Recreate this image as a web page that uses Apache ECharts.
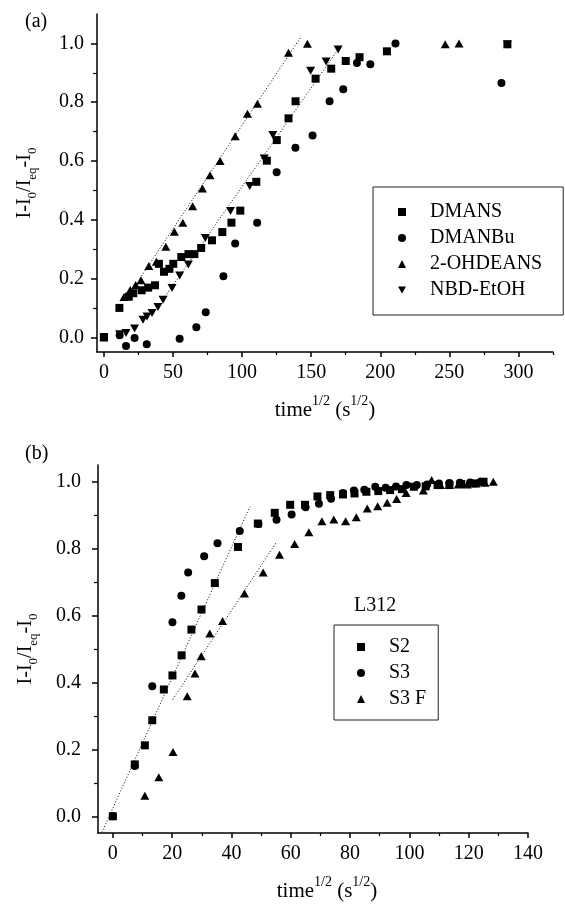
<!DOCTYPE html>
<html>
<head>
<meta charset="utf-8">
<script src="https://cdn.jsdelivr.net/npm/echarts@6/dist/echarts.min.js"></script>
<style>
  html, body { margin: 0; padding: 0; background: #fff; }
  #main { width: 565px; height: 907px; }
</style>
</head>
<body>
<div id="main"></div>
<script>
// panel (a): time^1/2 vs normalised intensity
var dmans = [[0,0],[11.2,0.100],[18,0.138],[21.2,0.150],[27.3,0.160],[32,0.169],[37,0.177],[39.8,0.250],[43.5,0.223],[47.4,0.233],[50.2,0.250],[56,0.273],[61.2,0.283],[65.5,0.283],[70.4,0.304],[78.2,0.330],[85.7,0.358],[92.3,0.390],[98.7,0.431],[110.3,0.529],[117.9,0.601],[125.1,0.671],[133.6,0.745],[138.7,0.803],[153.2,0.880],[164.5,0.914],[175,0.940],[185,0.953],[204.8,0.973],[292,0.997]];
var dmanbu = [[0,0],[11.4,0.007],[16,-0.030],[22.2,-0.002],[31,-0.024],[54.8,-0.005],[66.9,0.034],[73.7,0.085],[86.5,0.208],[95,0.319],[110.9,0.390],[125,0.562],[138.6,0.645],[151,0.687],[163.3,0.803],[173.2,0.844],[183.1,0.933],[192.8,0.929],[211,1.000],[287.7,0.865]];
var ohdeans = [[0,0],[14.5,0.137],[19,0.161],[23,0.178],[26.8,0.194],[32.5,0.243],[38,0.257],[44.8,0.308],[51,0.359],[57.1,0.390],[64.2,0.446],[71.3,0.506],[76.8,0.551],[84.1,0.600],[95,0.684],[103.9,0.761],[111.1,0.795],[133.6,0.968],[147.3,0.999],[247,0.997],[257,1.000]];
var nbd = [[0,0],[11.4,0.010],[16,0.015],[22.2,0.030],[28.3,0.060],[31.2,0.071],[34.8,0.083],[39.1,0.103],[42.8,0.128],[49.3,0.168],[54.8,0.210],[61.1,0.248],[73.4,0.338],[91.6,0.430],[105.5,0.515],[116,0.608],[122.3,0.688],[149.6,0.907],[160.8,0.938],[169.5,0.979],[292,0.996]];
var fitOhdeans = [[26,0.2],[143,1.025]];
var fitNbd = [[43,0.13],[170.3,0.985]];

// panel (b): L312
var s2 = [[0,0],[7.4,0.155],[10.8,0.212],[13.3,0.287],[17.2,0.379],[20.1,0.421],[23.2,0.481],[26.5,0.558],[29.9,0.618],[34.4,0.697],[42.2,0.805],[48.9,0.875],[54.6,0.907],[59.8,0.931],[64.8,0.931],[69,0.956],[73.3,0.960],[77.6,0.962],[81.5,0.965],[85.5,0.970],[89.5,0.972],[93.5,0.975],[97.5,0.978],[101.5,0.985],[105.5,0.986],[109.5,0.990],[113.5,0.990],[117.5,0.993],[121.5,0.995],[125,1.000]];
var s3 = [[0,0],[7.4,0.150],[13.3,0.389],[20.1,0.580],[23.1,0.659],[25.4,0.729],[30.8,0.777],[35.3,0.816],[42.8,0.853],[49.1,0.874],[55.2,0.886],[60.3,0.902],[65,0.924],[69.5,0.934],[73.6,0.949],[77.6,0.966],[81.3,0.974],[84.8,0.976],[88.5,0.985],[92,0.982],[95.5,0.986],[99,0.990],[102.5,0.990],[106,0.992],[110,0.995],[113.5,0.996],[117,0.997],[120.5,0.998],[124,1.000]];
var s3f = [[10.8,0.061],[15.5,0.117],[20.3,0.192],[25.1,0.359],[27.7,0.427],[29.8,0.478],[32.7,0.546],[37,0.584],[44.4,0.666],[50.7,0.729],[56.2,0.782],[61.3,0.814],[66.1,0.849],[70.5,0.882],[74.5,0.887],[78.5,0.882],[82.1,0.894],[85.8,0.920],[89.3,0.927],[92.5,0.937],[95.7,0.948],[98.9,0.966],[104.7,0.974],[107.5,1.005],[110.5,0.990],[113.5,0.990],[116.5,0.992],[119.5,0.992],[122.5,0.995],[125.5,0.997],[128.3,1.000]];
var fitS2 = [[-3.7,-0.048],[46.2,0.925]];
var fitS3f = [[20.2,0.349],[55.3,0.821]];

// tick labels
var xTicksA = [0,50,100,150,200,250,300];
var xMinorA = [25,75,125,175,225,275,325];
var xTicksB = [0,20,40,60,80,100,120,140];
var xMinorB = [10,30,50,70,90,110,130];
var yTicks = [0,0.2,0.4,0.6,0.8,1.0];
var yMinor = [0.1,0.3,0.5,0.7,0.9];

var FONT = 'Liberation Serif';
var downTri = 'path://M0,0L10,0L5,9Z';

var xName = '{n|time}{s|1/2}{n| (s}{s|1/2}{n|)}';
var yName = '{n|I-I}{b|0}{n|/I}{b|eq}{n|-I}{b|0}';
var xRich = {
    n: { fontSize: 21, fontFamily: FONT, color: '#000', verticalAlign: 'top', padding: [6,0,0,0] },
    s: { fontSize: 14, fontFamily: FONT, color: '#000', verticalAlign: 'top' }
};
var yRich = {
    n: { fontSize: 20, fontFamily: FONT, color: '#000', verticalAlign: 'top' },
    b: { fontSize: 13, fontFamily: FONT, color: '#000', verticalAlign: 'top', padding: [11,0,0,0] }
};

function mainX(grid, min, max, ticks, gap) {
    return {
        type: 'value', gridIndex: grid, min: min, max: max, position: 'bottom',
        splitLine: { show: false },
        axisLine: { onZero: false, lineStyle: { color: '#000', width: 1.5 } },
        axisTick: { length: 5, customValues: ticks, lineStyle: { color: '#000', width: 1.5 } },
        axisLabel: { customValues: ticks, margin: 11, fontSize: 20, fontFamily: FONT, color: '#000' },
        name: xName, nameLocation: 'middle', nameGap: 42,
        nameTextStyle: { rich: xRich, padding: gap }
    };
}
function minorX(grid, min, max, ticks) {
    return {
        type: 'value', gridIndex: grid, min: min, max: max, position: 'bottom', offset: 0,
        splitLine: { show: false }, axisLabel: { show: false },
        axisLine: { show: false, onZero: false },
        axisTick: { length: 3, customValues: ticks, lineStyle: { color: '#000', width: 1.2 } }
    };
}
function mainY(grid, min, max, margin) {
    return {
        type: 'value', gridIndex: grid, min: min, max: max, position: 'left',
        splitLine: { show: false },
        axisLine: { onZero: false, lineStyle: { color: '#000', width: 1.5 } },
        axisTick: { length: 6, customValues: yTicks, lineStyle: { color: '#000', width: 1.5 } },
        axisLabel: { customValues: yTicks, margin: margin, fontSize: 20, fontFamily: FONT, color: '#000',
            formatter: function (v) { return v.toFixed(1); } },
        name: yName, nameLocation: 'middle', nameRotate: 90, nameGap: 58,
        nameTextStyle: { rich: yRich }
    };
}
function minorY(grid, min, max) {
    return {
        type: 'value', gridIndex: grid, min: min, max: max, position: 'left', offset: 0,
        splitLine: { show: false }, axisLabel: { show: false },
        axisLine: { show: false, onZero: false },
        axisTick: { length: 4, customValues: yMinor, lineStyle: { color: '#000', width: 1.2 } }
    };
}

function dots(name, data, xi, yi, symbol, size) {
    return {
        name: name, type: 'scatter', xAxisIndex: xi, yAxisIndex: yi,
        symbol: symbol, symbolSize: size, data: data,
        itemStyle: { color: '#000', opacity: 1 }, z: 3
    };
}
function fit(data, xi, yi) {
    return {
        type: 'line', xAxisIndex: xi, yAxisIndex: yi, data: data,
        symbol: 'none', silent: true, z: 2,
        lineStyle: { color: '#000', width: 1, type: [1, 2] }
    };
}

var legendText = { fontSize: 20, fontFamily: FONT, color: '#000', lineHeight: 20, padding: [0,0,0,19] };

var chart = echarts.init(document.getElementById('main'), null, { renderer: 'canvas' });
chart.setOption({
    animation: false,
    backgroundColor: '#fff',
    title: [
        { text: '(a)', left: 25, top: 12, padding: 0, textStyle: { fontSize: 20, fontWeight: 'normal', fontFamily: FONT, color: '#000' } },
        { text: '(b)', left: 25, top: 444, padding: 0, textStyle: { fontSize: 20, fontWeight: 'normal', fontFamily: FONT, color: '#000' } }
    ],
    grid: [
        { left: 97, width: 456, top: 14, height: 338, outerBoundsMode: 'none' },
        { left: 98, width: 430, top: 465, height: 368, outerBoundsMode: 'none' }
    ],
    xAxis: [
        mainX(0, -5, 325, xTicksA, 0),
        minorX(0, -5, 325, xMinorA),
        mainX(1, -5, 140, xTicksB, [0,0,0,28]),
        minorX(1, -5, 140, xMinorB)
    ],
    yAxis: [
        mainY(0, -0.05, 1.1, 13),
        minorY(0, -0.05, 1.1),
        mainY(1, -0.05, 1.05, 17),
        minorY(1, -0.05, 1.05)
    ],
    legend: [
        {
            orient: 'vertical', left: 373, top: 187, padding: [15,21,15,25],
            itemWidth: 8, itemHeight: 8, itemGap: 6, symbolKeepAspect: true,
            borderColor: '#222', borderWidth: 1, textStyle: legendText,
            selectedMode: false,
            data: ['DMANS', 'DMANBu', '2-OHDEANS', 'NBD-EtOH']
        },
        {
            orient: 'vertical', left: 334, top: 625, padding: [12,12,11,23],
            itemWidth: 8, itemHeight: 8, itemGap: 6, symbolKeepAspect: true,
            borderColor: '#222', borderWidth: 1, textStyle: legendText,
            selectedMode: false,
            data: ['S2', 'S3', 'S3 F']
        }
    ],
    graphic: [
        { type: 'text', left: 354, top: 596, style: { text: 'L312', font: '20px "Liberation Serif"', fill: '#000' } }
    ],
    series: [
        fit(fitOhdeans, 0, 0),
        fit(fitNbd, 0, 0),
        dots('DMANS', dmans, 0, 0, 'rect', 8),
        dots('DMANBu', dmanbu, 0, 0, 'circle', 8),
        dots('2-OHDEANS', ohdeans, 0, 0, 'triangle', [9, 8]),
        dots('NBD-EtOH', nbd, 0, 0, downTri, [9, 8]),
        fit(fitS2, 2, 2),
        fit(fitS3f, 2, 2),
        dots('S2', s2, 2, 2, 'rect', 8),
        dots('S3', s3, 2, 2, 'circle', 8),
        dots('S3 F', s3f, 2, 2, 'triangle', [9, 8])
    ]
});
</script>
</body>
</html>
